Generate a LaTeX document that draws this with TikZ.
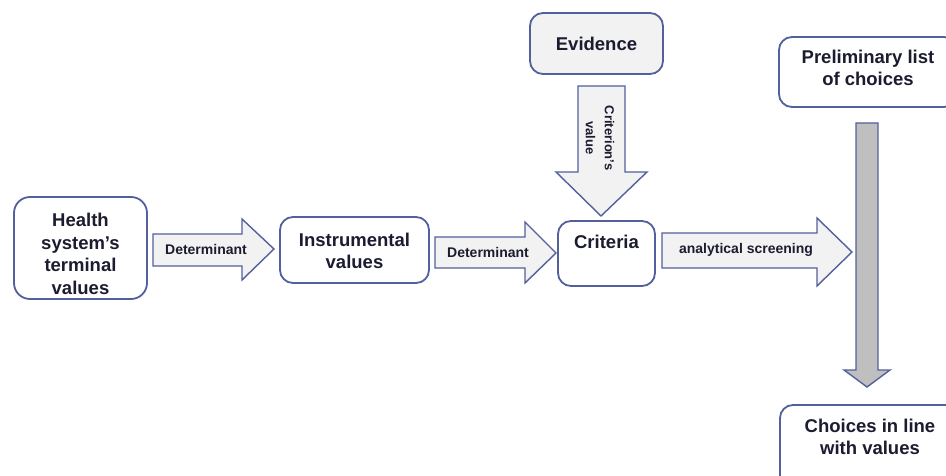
\documentclass[tikz,border=0pt]{standalone}
\usepackage{fontspec}
\setmainfont{Liberation Sans}
\definecolor{bord}{RGB}{84,96,156}
\definecolor{txt}{RGB}{28,28,48}
\definecolor{afill}{RGB}{242,242,242}
\definecolor{gfill}{RGB}{191,191,191}
\begin{document}
\begin{tikzpicture}[x=1pt,y=-1pt,
 box/.style={draw=bord, line width=1.8pt, rounded corners=13pt, fill=white, inner sep=0pt},
 big/.style={font=\fontsize{18.5}{22.5}\selectfont\bfseries, text=txt, align=center, inner sep=0pt},
 lab/.style={font=\fontsize{14}{17}\selectfont\bfseries, text=txt, inner sep=0pt, align=center},
 barrow/.style={draw=bord, line width=1.4pt, fill=afill, line join=miter}]
\useasboundingbox (0,0) rectangle (946,476);
\clip (0,0) rectangle (946,476);
\fill[white] (0,0) rectangle (946,476);
% boxes
\node[box, minimum width=133pt, minimum height=102pt, rounded corners=16pt] (health) at (80.5,248) {};
\node[box, minimum width=149pt, minimum height=66pt] (instr) at (354.5,250) {};
\node[box, minimum width=97pt, minimum height=65pt] (crit) at (606.5,253.5) {};
\node[box, minimum width=133pt, minimum height=61pt, fill=afill] (evid) at (596.5,43.5) {};
\node[box, minimum width=178pt, minimum height=70pt] (prelim) at (868,72) {};
\node[box, minimum width=180pt, minimum height=90pt] (choices) at (870,450) {};
% texts
\node[big] (htext) at (80.5,254) {Health\\system’s\\terminal\\values};
\node[big] (itext) at (354.5,251) {Instrumental\\values};
\node[big] (ctext) at (606.5,242) {Criteria};
\node[big] (etext) at (596.5,43.5) {Evidence};
\node[big] (ptext) at (868,68) {Preliminary list\\of choices};
\node[big] (chtext) at (870,437) {Choices in line\\with values};
% block arrows
\draw[barrow] (153,234) -- (242,234) -- (242,219) -- (274,249) -- (242,280) -- (242,266) -- (153,266) -- cycle;
\draw[barrow] (435,237) -- (525,237) -- (525,222) -- (556,253) -- (525,283) -- (525,268) -- (435,268) -- cycle;
\draw[barrow] (662,233) -- (817,233) -- (817,218) -- (852,252) -- (817,286) -- (817,268) -- (662,268) -- cycle;
\draw[barrow] (578,86) -- (625,86) -- (625,172) -- (647,172) -- (601,216) -- (556,172) -- (578,172) -- cycle;
\draw[barrow, fill=gfill] (856,123) -- (878,123) -- (878,370) -- (890,370) -- (867,387) -- (844,370) -- (856,370) -- cycle;
% arrow labels
\node[lab] (d1) at (206,249) {Determinant};
\node[lab] (d2) at (488,252) {Determinant};
\node[lab] (an) at (746,250) {analytical screening};
\node[lab, font=\fontsize{13}{19}\selectfont\bfseries, rotate=-90] (cv) at (600,138) {Criterion’s\\value};
\end{tikzpicture}
\end{document}
